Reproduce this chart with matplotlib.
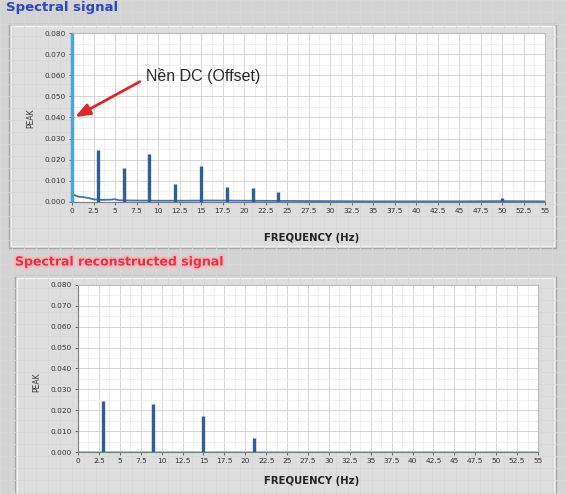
import numpy as np
import matplotlib.pyplot as plt
from matplotlib.patches import Rectangle
import matplotlib.patheffects as pe

# ---- data ----
x_ticks = [0, 2.5, 5, 7.5, 10, 12.5, 15, 17.5, 20, 22.5, 25, 27.5, 30, 32.5, 35,
           37.5, 40, 42.5, 45, 47.5, 50, 52.5, 55]
x_tick_labels = ['0', '2.5', '5', '7.5', '10', '12.5', '15', '17.5', '20', '22.5', '25',
                 '27.5', '30', '32.5', '35', '37.5', '40', '42.5', '45', '47.5', '50',
                 '52.5', '55']
y_ticks = [0.0, 0.01, 0.02, 0.03, 0.04, 0.05, 0.06, 0.07, 0.08]
y_tick_labels = ['0.000', '0.010', '0.020', '0.030', '0.040', '0.050', '0.060',
                 '0.070', '0.080']

# spectral signal: DC + harmonics + 50 Hz mains
dc_freq = 0.0
dc_peak = 0.08
peak_freqs = [3, 6, 9, 12, 15, 18, 21, 24, 50]
peak_vals = [0.0245, 0.0162, 0.0227, 0.0083, 0.0171, 0.0071, 0.0067, 0.0048, 0.0018]
floor_freqs = [0, 0.3, 0.8, 1.5, 2.0, 2.6, 3.5, 4.5, 5.0, 5.5, 7, 10, 13, 16, 20, 25, 30,
               35, 40, 45, 49, 51, 55]
floor_vals = [0.004, 0.0032, 0.0025, 0.0022, 0.0018, 0.0012, 0.0010, 0.0011, 0.0013,
              0.0008, 0.0007, 0.0006, 0.0006, 0.0007, 0.0006, 0.0005, 0.0004, 0.0003,
              0.0003, 0.0003, 0.0004, 0.0004, 0.0003]

# reconstructed signal: odd harmonics only
rec_freqs = [3, 9, 15, 21]
rec_vals = [0.0243, 0.0228, 0.0171, 0.0067]

# annotation
note_text = 'Nền DC (Offset)'
note_xy = (8.6, 0.0595)
arrow_tail = (7.9, 0.0570)
arrow_head = (0.35, 0.0402)

W, H = 566, 494
BG = '#d3d3d3'
PANEL = '#dedede'
LINE = '#2f5f96'

fig = plt.figure(figsize=(W / 100, H / 100), dpi=100)
fig.patch.set_facecolor(BG)

# faint front panel grid
bg = fig.add_axes([0, 0, 1, 1], zorder=-5)
bg.set_xlim(0, W)
bg.set_ylim(H, 0)
bg.axis('off')
for gx in np.arange(0, W, 12):
    bg.axvline(gx, color='#d8d8d8', lw=0.6)
for gy in np.arange(0, H, 12):
    bg.axhline(gy, color='#d8d8d8', lw=0.6)

# panel frames
for (x0, y0, x1, y1) in [(9, 24, 556, 248), (15, 276, 556, 500)]:
    bg.add_patch(Rectangle((x0, y0), x1 - x0, y1 - y0, facecolor=PANEL,
                           edgecolor='#a8a8a8', lw=1.0))
    bg.add_patch(Rectangle((x0 + 2, y0 + 2), x1 - x0 - 4, y1 - y0 - 4, facecolor='none',
                           edgecolor='#f2f2f2', lw=1.0))


def style_axes(ax):
    ax.set_facecolor('white')
    ax.set_xlim(0, 55)
    ax.set_ylim(0, 0.08)
    ax.set_xticks(x_ticks)
    ax.set_xticklabels(x_tick_labels)
    ax.set_yticks(y_ticks)
    ax.set_yticklabels(y_tick_labels)
    ax.set_xticks(np.arange(1.25, 55, 2.5), minor=True)
    ax.set_yticks(np.arange(0.005, 0.08, 0.01), minor=True)
    ax.grid(True, which='major', color='#d6d6d6', lw=0.7)
    ax.grid(True, which='minor', color='#eeeeee', lw=0.6)
    ax.set_axisbelow(True)
    ax.tick_params(axis='both', which='major', labelsize=5.3, colors='#555555',
                   labelcolor='#333333', length=2.5, width=0.6, pad=2)
    ax.tick_params(axis='both', which='minor', length=0)
    for side in ['top', 'right']:
        ax.spines[side].set_color('#bcbcbc')
    for side in ['left', 'bottom']:
        ax.spines[side].set_color('#7a7a7a')


# ---- top: spectral signal ----
ax1 = fig.add_axes([72 / W, 1 - 202 / H, (545 - 72) / W, (202 - 33) / H])
style_axes(ax1)
ax1.plot(floor_freqs, floor_vals, color='#3b74b4', lw=1.3)
ax1.vlines(peak_freqs, 0, peak_vals, color=LINE, lw=2.4)
ax1.vlines([dc_freq], 0, [dc_peak], color='#4aa6d6', lw=2.5, zorder=5, clip_on=False)
ax1.text(note_xy[0], note_xy[1], note_text, fontsize=11.5, family='Liberation Sans',
         color='#2a2a2a', ha='left', va='center')
ax1.annotate('', xy=arrow_head, xytext=arrow_tail,
             arrowprops=dict(arrowstyle='-|>,head_length=0.9,head_width=0.35',
                             color='#e0262a', lw=2, shrinkA=0, shrinkB=0))

# ---- bottom: reconstructed signal ----
ax2 = fig.add_axes([78 / W, 1 - 452 / H, (538 - 78) / W, (452 - 285) / H])
style_axes(ax2)
ax2.plot([0, 55], [0, 0], color='#9cc0e6', lw=1.2)
ax2.vlines(rec_freqs, 0, rec_vals, color=LINE, lw=2.4)

# axis labels
for yc, xc in [(118, 31), (382, 37)]:
    fig.text(xc / W, 1 - yc / H, 'PEAK', rotation=90, fontsize=5.5, color='#333333',
             ha='center', va='center')
for yc in [238, 481]:
    fig.text(312 / W, 1 - yc / H, 'FREQUENCY (Hz)', fontsize=7.3, fontweight='bold',
             color='#222222', ha='center', va='center')

# titles
fig.text(6 / W, 1 - 7 / H, 'Spectral signal', fontsize=9.5, fontweight='bold',
         color='#2b45c0', ha='left', va='center')
fig.text(15 / W, 1 - 262 / H, 'Spectral reconstructed signal', fontsize=9,
         fontweight='bold', color='#e5333d', ha='left', va='center',
         path_effects=[pe.withStroke(linewidth=3, foreground='#f3b9c0')])

fig.savefig('out.png', dpi=100, facecolor=fig.get_facecolor())
